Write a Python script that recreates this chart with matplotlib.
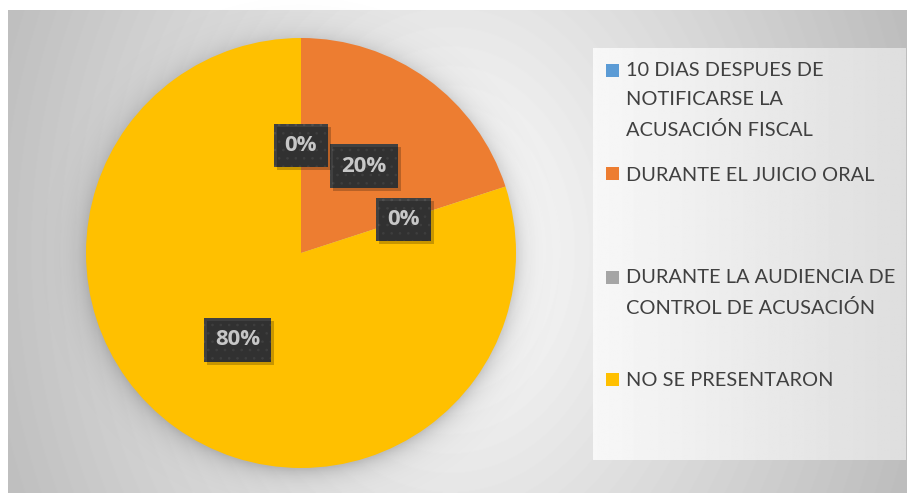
import numpy as np
import matplotlib.pyplot as plt
from matplotlib.patches import Rectangle
from matplotlib.transforms import IdentityTransform

# datos del grafico
categorias = ["10 DIAS DESPUES DE\nNOTIFICARSE LA\nACUSACIÓN FISCAL",
              "DURANTE EL JUICIO ORAL",
              "DURANTE LA AUDIENCIA DE\nCONTROL DE ACUSACIÓN",
              "NO SE PRESENTARON"]
porcentajes = [0, 20, 0, 80]
colores = ["#5B9BD5", "#ED7D31", "#A5A5A5", "#FFC000"]

plt.rcParams['font.family'] = ['Lato', 'DejaVu Sans']
plt.rcParams['hatch.linewidth'] = 0.6
plt.rcParams['patch.edgecolor'] = '#515151'   # color de los puntos de la trama

W, H = 907, 493
fig = plt.figure(figsize=(W / 100, H / 100), dpi=100)

# fondo con degradado radial
bg = fig.add_axes([8 / W, 0, (W - 8) / W, (H - 10) / H])
yy, xx = np.mgrid[0:483, 0:899]
t = np.sqrt(((xx - 442) / 470) ** 2 + ((yy - 240) / 620) ** 2)
bg.imshow(np.clip(1 - 0.25 * t, 0, 1), cmap='gray', vmin=0, vmax=1, aspect='auto')
bg.axis('off')

# torta
R = 215
k = 1.25
ax = fig.add_axes([(301 - R * k) / W, (H - 253 - R * k) / H, 2 * R * k / W, 2 * R * k / H])
ax.axis('off')

# sombra difusa alrededor de la torta
g = np.linspace(-k, k, 400)
gx, gy = np.meshgrid(g, g)
rr = np.sqrt(gx ** 2 + (gy + 0.015) ** 2)
sombra = np.zeros((400, 400, 4))
sombra[..., :3] = 0.35
sombra[..., 3] = np.where(rr > 0.99, 0.3 * np.exp(-(rr - 0.99) / 0.05), 0.3)
ax.imshow(sombra, extent=[-k, k, -k, k], origin='lower', zorder=0)

wedges, textos, autotextos = ax.pie(porcentajes, colors=colores, startangle=90,
                                    counterclock=False, autopct='%1.0f%%',
                                    pctdistance=0.5, radius=1,
                                    wedgeprops=dict(linewidth=0))
ax.set_xlim(-k, k)
ax.set_ylim(-k, k)
for w in wedges:
    w.set_zorder(2)

for at in autotextos:
    at.set_color('white')
    at.set_family(['Open Sans', 'DejaVu Sans'])
    at.set_fontsize(16)
    at.set_fontweight('bold')
    at.set_zorder(5)
    at.set_bbox(dict(boxstyle='square,pad=0.5', facecolor='#404040', hatch='..',
                     linewidth=0))

# sombras de las etiquetas
fig.canvas.draw()
for at in autotextos:
    bb = at.get_bbox_patch().get_window_extent()
    fig.add_artist(Rectangle((bb.x0 + 3, bb.y0 - 3), bb.width, bb.height,
                             transform=IdentityTransform(), facecolor='black',
                             alpha=0.22, edgecolor='none', zorder=3))

# leyenda
lg = fig.add_axes([593 / W, (H - 460) / H, (906 - 593) / W, (460 - 48) / H])
grad = np.tile(np.linspace(0.97, 0.87, 300), (50, 1))
lg.imshow(grad, cmap='gray', vmin=0, vmax=1, aspect='auto', extent=[0, 313, 412, 0])
lg.set_xlim(0, 313)
lg.set_ylim(412, 0)
lg.axis('off')

y_items = [22, 125, 229, 331]
paso = 28.5
for cat, col, y0 in zip(categorias, colores, y_items):
    lg.add_patch(Rectangle((13, y0 - 6.5), 13, 13, facecolor=col, edgecolor='none'))
    n = cat.count('\n') + 1
    lg.text(33, y0 + 2 + (n - 1) * paso / 2, cat, fontsize=14.4, color='#404040',
            va='center', ha='left', linespacing=1.85)

fig.savefig('out.png', dpi=100)
